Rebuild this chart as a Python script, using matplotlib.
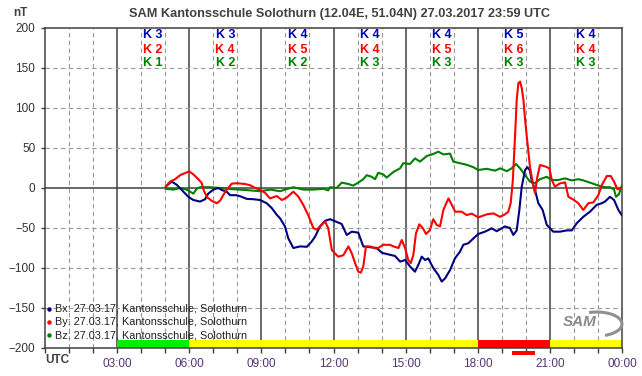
import matplotlib
matplotlib.use("Agg")
import matplotlib.pyplot as plt
from matplotlib.patches import Arc
from matplotlib.transforms import blended_transform_factory

plt.rcParams["font.family"] = ["Liberation Sans", "DejaVu Sans"]

# Messwerte (Stunden UTC, nT)
bx_t = [5.03, 5.27, 5.48, 5.69, 5.96, 6.17, 6.45, 6.66, 6.79, 7.00, 7.21, 7.35, 7.56, 7.70,
        7.97, 8.18, 8.39, 8.66, 8.94, 9.22, 9.43, 9.64, 9.78, 9.98, 10.12, 10.33, 10.61, 10.89,
        11.09, 11.23, 11.44, 11.65, 11.86, 12.06, 12.34, 12.55, 12.76, 13.03, 13.24, 13.52,
        13.80, 14.01, 14.56, 14.77, 14.98, 15.18, 15.39, 15.53, 15.67, 15.81, 15.94, 16.15,
        16.36, 16.50, 16.64, 16.85, 17.05, 17.26, 17.40, 17.61, 17.82, 18.02, 18.30, 18.58,
        18.79, 19.13, 19.34, 19.48, 19.62, 19.73, 19.83, 19.97, 20.06, 20.17, 20.24, 20.38,
        20.52, 20.70, 20.87, 21.14, 21.42, 21.70, 21.91, 22.12, 22.39, 22.67, 22.95, 23.16,
        23.29, 23.50, 23.67, 23.85, 23.99]
bx_v = [2, 8, 4, -2.5, -11, -15, -17, -14, -7, -2, 0, -2.5, -4.6, -9,
        -9, -11, -13.6, -14, -15, -19, -25, -33.5, -38, -48, -63, -75, -73, -73.5,
        -67, -61, -48, -41, -39, -41.5, -45, -58.7, -54.6, -55.8, -73, -74,
        -75, -81, -85, -92, -90, -98, -104.6, -96, -85.8, -90, -88, -100,
        -108.7, -117, -113, -102.5, -88, -79.6, -71, -69, -63, -57.5, -54.6, -50.4,
        -54, -48, -50, -58.7, -53, -27.5, 1.7, 22.5, 26, 22, 10, -2.5,
        -19, -27.5, -46, -54.6, -54.6, -53, -53, -44, -36, -29.6, -21, -19,
        -17, -11, -15, -27.5, -33.8]

by_t = [5.03, 5.20, 5.41, 5.62, 5.82, 6.00, 6.17, 6.38, 6.52, 6.59, 6.73, 6.93, 7.14, 7.28,
        7.42, 7.56, 7.77, 7.97, 8.32, 8.53, 8.74, 8.94, 9.15, 9.36, 9.64, 9.85, 10.05, 10.33,
        10.54, 10.74, 10.95, 11.16, 11.30, 11.51, 11.65, 11.78, 11.93, 12.06, 12.20, 12.41,
        12.62, 12.76, 12.90, 13.03, 13.13, 13.24, 13.35, 13.52, 13.80, 14.07, 14.35, 14.49,
        14.70, 14.84, 14.98, 15.11, 15.21, 15.32, 15.43, 15.57, 15.71, 15.85, 16.01, 16.15,
        16.29, 16.43, 16.57, 16.78, 16.92, 17.06, 17.33, 17.54, 17.75, 18.02, 18.37, 18.65,
        18.93, 19.13, 19.27, 19.37, 19.46, 19.55, 19.62, 19.69, 19.76, 19.83, 19.90, 19.97,
        20.04, 20.10, 20.17, 20.29, 20.38, 20.48, 20.59, 20.80, 20.98, 21.08, 21.21, 21.42,
        21.63, 21.77, 21.98, 22.18, 22.39, 22.60, 22.81, 23.02, 23.16, 23.37, 23.53, 23.67,
        23.81, 23.99]
by_v = [2, 8, 11, 16, 18.6, 20.8, 17, 11, 6, -2, -11, -16, -19, -16,
        -8.6, -2, 5.4, 6, 5, 3.5, 0, -2, -6, -13, -10, -15, -12, -4.6,
        -10.8, -21, -34, -50, -52, -46, -42, -50, -77.5, -81.7, -85.8, -84,
        -73, -81.7, -94, -104.6, -106, -98, -73, -73, -76, -71, -71, -73,
        -75, -65, -75.4, -90, -94, -84, -56.7, -45.4, -50, -57.5, -52.5, -39,
        -46, -48, -27.5, -13, -21, -29.6, -29.6, -33.8, -32, -36.7, -33, -31.7,
        -36, -33, -29.6, -19, 10, 64, 110, 131, 133, 125, 110, 85,
        64, 47.5, 26.7, 6, -6.6, 14, 28.7, 27, 24.6, 10, 1.7, 5.8,
        7, -11, -14.6, -19, -27.5, -19, -18, -8.7, 3.7, 15, 15, 8,
        -1.7, 0]

bz_t = [5.03, 5.34, 5.62, 5.89, 6.17, 6.31, 6.45, 6.86, 7.28, 7.70, 8.11, 8.53, 8.94, 9.36,
        9.78, 9.98, 10.33, 10.74, 11.16, 11.58, 11.78, 11.86, 12.13, 12.34, 12.62, 12.82,
        13.03, 13.24, 13.38, 13.59, 13.73, 13.86, 14.07, 14.21, 14.49, 14.77, 14.90, 15.18,
        15.39, 15.60, 15.88, 16.15, 16.36, 16.57, 16.85, 16.98, 17.26, 17.54, 17.82, 18.02,
        18.37, 18.72, 18.93, 19.21, 19.41, 19.59, 19.76, 19.97, 20.17, 20.38, 20.59, 20.87,
        21.08, 21.35, 21.63, 21.91, 22.18, 22.39, 22.74, 23.02, 23.29, 23.50, 23.67, 23.75,
        23.87, 23.99]
bz_v = [-1, -2, 0, -2, -7, -1, 1, 1, 0, -1.3, -2, -3, -4, -2,
        -4, -2, 1, -2, -2, -1, -3, 1, 0, 6.7, 5, 3,
        6.7, 11, 16, 14, 11, 19, 17, 13, 20, 24.6, 31, 30,
        37, 33, 40, 42.5, 45.4, 42, 43, 33, 31, 29, 26, 22.5,
        24, 21.7, 24.6, 21, 24.6, 30, 24.6, 16, 8, 6, 11, 14,
        10, 10, 12, 9.5, 11, 9.5, 6, 3, 1, 1, -2, -11,
        -8, 3]

# K-Indizes je 3-Stunden-Intervall (03-06 ... 21-24)
k_mid = [4.5, 7.5, 10.5, 13.5, 16.5, 19.5, 22.5]
k_bx = [3, 3, 4, 4, 4, 5, 4]
k_by = [2, 4, 5, 4, 5, 6, 4]
k_bz = [1, 2, 2, 3, 3, 3, 3]

# Aktivitaetsbalken unten
bar_from = [3, 6, 18, 21]
bar_to = [6, 18, 21, 24]
bar_state = ["ruhig", "aktiv", "sturm", "aktiv"]
flare_from, flare_to = 19.43, 20.38

legend_names = ["Bx: 27.03.17, Kantonsschule, Solothurn",
                "By: 27.03.17, Kantonsschule, Solothurn",
                "Bz: 27.03.17, Kantonsschule, Solothurn"]

c_bx, c_by, c_bz = "#000080", "#ff0000", "#008000"
state_col = {"ruhig": "#00ee00", "aktiv": "#ffff00", "sturm": "#ff0000"}
dark = "#404040"

fig = plt.figure(figsize=(6.42, 3.76), dpi=100)
ax = fig.add_axes([45 / 642, 28 / 376, 577 / 642, 320 / 376])
ax.set_xlim(0, 24)
ax.set_ylim(-200, 200)

# Gitter
for h in range(1, 24):
    if h % 3 == 0:
        ax.axvline(h, color=dark, lw=1.1, zorder=1)
    else:
        ax.axvline(h, color="#999999", lw=0.8, ls=(0, (4, 3)), zorder=1)
for v in range(-150, 200, 50):
    if v == 0:
        ax.axhline(v, color=dark, lw=1.1, zorder=1)
    else:
        ax.axhline(v, color="#999999", lw=0.8, ls=(0, (4, 3)), zorder=1)

for s in ax.spines.values():
    s.set_color(dark)
    s.set_linewidth(1.1)

# Balken
for a, b, st in zip(bar_from, bar_to, bar_state):
    ax.fill_between([a, b], -200, -190, color=state_col[st], lw=0, zorder=2)
ax.fill_between([flare_from, flare_to], -209, -204, color="#ff0000", lw=0,
                clip_on=False, zorder=2)

# Kurven
ax.plot(bx_t, bx_v, color=c_bx, lw=1.5, zorder=4)
ax.plot(by_t, by_v, color=c_by, lw=1.5, zorder=5)
ax.plot(bz_t, bz_v, color=c_bz, lw=1.5, zorder=3)

# K-Werte
for x, kb, ky, kz in zip(k_mid, k_bx, k_by, k_bz):
    ax.text(x, 191, "K %d" % kb, color="#0000c0", ha="center", va="center",
            fontsize=9, fontweight="bold")
    ax.text(x, 173, "K %d" % ky, color=c_by, ha="center", va="center",
            fontsize=9, fontweight="bold")
    ax.text(x, 156, "K %d" % kz, color=c_bz, ha="center", va="center",
            fontsize=9, fontweight="bold")

# Achsen
ax.set_yticks(range(-200, 201, 50))
ax.set_xticks(range(0, 25, 3))
ax.set_xticks(range(0, 25), minor=True)
ax.set_xticklabels([""] + ["%02d:00" % (h % 24) for h in range(3, 25, 3)])
ax.tick_params(axis="y", direction="out", length=3, width=1, color=dark,
               labelsize=8.5, labelcolor="#333333", pad=4)
ax.tick_params(axis="x", which="both", direction="out", length=3.5, width=1, color=dark,
               labelsize=8.5, labelcolor="#553377", pad=4)
tr = blended_transform_factory(ax.transData, fig.transFigure)
ax.text(0.0, 1 - 360 / 376, "UTC", ha="left", va="center", fontsize=8.5,
        fontweight="bold", color=dark, transform=tr, clip_on=False)

fig.text(20 / 642, 1 - 13 / 376, "nT", ha="center", va="center", fontsize=8.5,
         fontweight="bold", color=dark)
fig.text(340 / 642, 1 - 14 / 376,
         "SAM Kantonsschule Solothurn (12.04E, 51.04N) 27.03.2017 23:59 UTC",
         ha="center", va="center", fontsize=9.2, fontweight="bold", color=dark)

# Legende
for i, (name, c) in enumerate(zip(legend_names, [c_bx, c_by, c_bz])):
    yy = -151 - 16.5 * i
    ax.plot([0.17], [yy], marker="o", ms=2.2, color=c, zorder=6, clip_on=False)
    ax.text(0.42, yy, name, ha="left", va="center", fontsize=7.8, color="#202020", zorder=6)

# SAM Logo
ax.text(22.25, -168, "SAM", ha="center", va="center", fontsize=11, fontstyle="italic",
        fontweight="bold", color="#8a8a8a", zorder=6)
lax = fig.add_axes([550 / 642, 1 - 345 / 376, 80 / 642, 45 / 376])
lax.set_xlim(0, 80)
lax.set_ylim(0, 45)
lax.axis("off")
lax.add_patch(Arc((47, 21), 50, 24, theta1=-55, theta2=125, color="#909090", lw=2.2))

fig.savefig("out.png", dpi=100)
